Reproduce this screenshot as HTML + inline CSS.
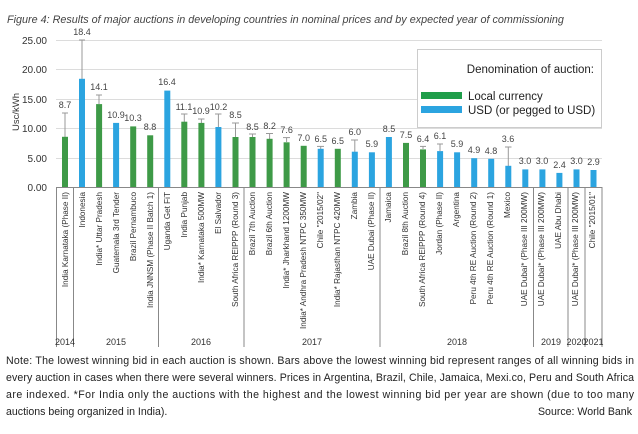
<!DOCTYPE html>
<html><head><meta charset="utf-8"><style>
body{margin:0;background:#fff;width:638px;height:434px;overflow:hidden}
svg{display:block;font-family:"Liberation Sans",sans-serif}
.v{font-size:9px;fill:#444;text-anchor:middle}
.c{font-size:8.2px;fill:#333;text-anchor:end}
.y{font-size:9px;fill:#333;text-anchor:middle}
.n{font-size:10.6px;fill:#222}
</style></head><body>
<svg width="638" height="434" viewBox="0 0 638 434">
<text x="7" y="23" font-size="10.8" font-style="italic" fill="#444">Figure 4: Results of major auctions in developing countries in nominal prices and by expected year of commissioning</text>
<g stroke="#dcdcdc" stroke-width="1">
<line x1="56" y1="40.5" x2="602" y2="40.5"/><line x1="56" y1="69.5" x2="602" y2="69.5"/><line x1="56" y1="99.5" x2="602" y2="99.5"/><line x1="56" y1="128.5" x2="602" y2="128.5"/><line x1="56" y1="158.5" x2="602" y2="158.5"/>
</g>
<g font-size="10" fill="#333" text-anchor="end">
<text x="47" y="44">25.00</text><text x="47" y="73">20.00</text><text x="47" y="103">15.00</text><text x="47" y="132">10.00</text><text x="47" y="162">5.00</text><text x="47" y="191">0.00</text>
</g>
<text transform="translate(19,112) rotate(-90)" font-size="9.5" fill="#333" text-anchor="middle">Usc/kWh</text>
<g stroke="#999" stroke-width="1">
<line x1="65" y1="113" x2="65" y2="137"/><line x1="62" y1="113" x2="68" y2="113"/>
<line x1="82" y1="40" x2="82" y2="79"/><line x1="79" y1="40" x2="85" y2="40"/>
<line x1="99" y1="95" x2="99" y2="104"/><line x1="96" y1="95" x2="102" y2="95"/>
<line x1="184.3" y1="114" x2="184.3" y2="122"/><line x1="181" y1="114" x2="187.5" y2="114"/>
<line x1="201.4" y1="119" x2="201.4" y2="123"/><line x1="198" y1="119" x2="204.5" y2="119"/>
<line x1="218.4" y1="114" x2="218.4" y2="127"/><line x1="215" y1="114" x2="221.5" y2="114"/>
<line x1="235.5" y1="123" x2="235.5" y2="137"/><line x1="232" y1="123" x2="239" y2="123"/>
<line x1="252.5" y1="134" x2="252.5" y2="137"/><line x1="249" y1="134" x2="256" y2="134"/>
<line x1="269.6" y1="133.5" x2="269.6" y2="139"/><line x1="266" y1="133.5" x2="273" y2="133.5"/>
<line x1="286.6" y1="137.6" x2="286.6" y2="142"/><line x1="283" y1="137.6" x2="290" y2="137.6"/>
<line x1="320.7" y1="146.4" x2="320.7" y2="149"/><line x1="317" y1="146.4" x2="324" y2="146.4"/>
<line x1="354.8" y1="140" x2="354.8" y2="152"/><line x1="351" y1="140" x2="358" y2="140"/>
<line x1="423" y1="146.4" x2="423" y2="149"/><line x1="420" y1="146.4" x2="426" y2="146.4"/>
<line x1="440" y1="144" x2="440" y2="151"/><line x1="437" y1="144" x2="443" y2="144"/>
<line x1="508.3" y1="147" x2="508.3" y2="166"/><line x1="505" y1="147" x2="511.5" y2="147"/>
</g>
<g>
<rect x="62" y="136.8" width="6" height="50.2" fill="#3e9a47"/>
<rect x="79" y="78.8" width="6" height="108.2" fill="#2ba4e0"/>
<rect x="96.1" y="104.1" width="6" height="82.9" fill="#3e9a47"/>
<rect x="113.1" y="122.9" width="6" height="64.1" fill="#2ba4e0"/>
<rect x="130.2" y="126.4" width="6" height="60.6" fill="#3e9a47"/>
<rect x="147.2" y="135.3" width="6" height="51.7" fill="#3e9a47"/>
<rect x="164.3" y="90.6" width="6" height="96.4" fill="#2ba4e0"/>
<rect x="181.3" y="121.7" width="6" height="65.3" fill="#3e9a47"/>
<rect x="198.4" y="122.9" width="6" height="64.1" fill="#3e9a47"/>
<rect x="215.4" y="127" width="6" height="60" fill="#2ba4e0"/>
<rect x="232.5" y="137" width="6" height="50" fill="#3e9a47"/>
<rect x="249.5" y="137" width="6" height="50" fill="#3e9a47"/>
<rect x="266.6" y="138.8" width="6" height="48.2" fill="#3e9a47"/>
<rect x="283.6" y="142.3" width="6" height="44.7" fill="#3e9a47"/>
<rect x="300.7" y="145.8" width="6" height="41.2" fill="#3e9a47"/>
<rect x="317.7" y="148.8" width="6" height="38.2" fill="#2ba4e0"/>
<rect x="334.8" y="148.8" width="6" height="38.2" fill="#3e9a47"/>
<rect x="351.8" y="151.7" width="6" height="35.3" fill="#2ba4e0"/>
<rect x="368.9" y="152.3" width="6" height="34.7" fill="#2ba4e0"/>
<rect x="385.9" y="137" width="6" height="50" fill="#2ba4e0"/>
<rect x="403" y="142.9" width="6" height="44.1" fill="#3e9a47"/>
<rect x="420" y="149.4" width="6" height="37.6" fill="#3e9a47"/>
<rect x="437.1" y="151.1" width="6" height="35.9" fill="#2ba4e0"/>
<rect x="454.1" y="152.3" width="6" height="34.7" fill="#2ba4e0"/>
<rect x="471.2" y="158.2" width="6" height="28.8" fill="#2ba4e0"/>
<rect x="488.2" y="158.8" width="6" height="28.2" fill="#2ba4e0"/>
<rect x="505.3" y="165.8" width="6" height="21.2" fill="#2ba4e0"/>
<rect x="522.3" y="169.4" width="6" height="17.6" fill="#2ba4e0"/>
<rect x="539.4" y="169.4" width="6" height="17.6" fill="#2ba4e0"/>
<rect x="556.4" y="172.9" width="6" height="14.1" fill="#2ba4e0"/>
<rect x="573.5" y="169.4" width="6" height="17.6" fill="#2ba4e0"/>
<rect x="590.5" y="170" width="6" height="17" fill="#2ba4e0"/>
</g>
<g class="v">
<text x="65" y="108">8.7</text><text x="82" y="35">18.4</text><text x="99" y="90">14.1</text><text x="116" y="118">10.9</text><text x="133" y="121">10.3</text><text x="150" y="130">8.8</text><text x="167" y="85">16.4</text><text x="184" y="110">11.1</text><text x="201" y="114">10.9</text><text x="218.5" y="110">10.2</text><text x="235.5" y="118">8.5</text><text x="252.5" y="130">8.5</text><text x="269.6" y="129">8.2</text><text x="286.6" y="133">7.6</text><text x="303.7" y="141">7.0</text><text x="320.7" y="142">6.5</text><text x="337.8" y="144">6.5</text><text x="354.8" y="135">6.0</text><text x="371.9" y="147">5.9</text><text x="389" y="132">8.5</text><text x="406" y="138">7.5</text><text x="423" y="142">6.4</text><text x="440" y="139">6.1</text><text x="457" y="147">5.9</text><text x="474" y="153">4.9</text><text x="491" y="154">4.8</text><text x="508" y="142">3.6</text><text x="525" y="164">3.0</text><text x="542" y="164">3.0</text><text x="559.5" y="168">2.4</text><text x="576.5" y="164">3.0</text><text x="593.5" y="165">2.9</text>
</g>
<g stroke="#888" stroke-width="1">
<line x1="56" y1="187.5" x2="602" y2="187.5"/>
<line x1="56.5" y1="187" x2="56.5" y2="347"/><line x1="73.5" y1="187" x2="73.5" y2="347"/><line x1="158.5" y1="187" x2="158.5" y2="347"/><line x1="244" y1="187" x2="244" y2="347"/><line x1="380" y1="187" x2="380" y2="347"/><line x1="533.5" y1="187" x2="533.5" y2="347"/><line x1="568" y1="187" x2="568" y2="347"/><line x1="585" y1="187" x2="585" y2="347"/><line x1="602" y1="187" x2="602" y2="347"/>
</g>
<g class="c">
<text transform="translate(68,192) rotate(-90)">India Karnataka (Phase II)</text>
<text transform="translate(85,192) rotate(-90)">Indonesia</text>
<text transform="translate(102,192) rotate(-90)">India* Uttar Pradesh</text>
<text transform="translate(119,192) rotate(-90)">Guatemala 3rd Tender</text>
<text transform="translate(136,192) rotate(-90)">Brazil Pernambuco</text>
<text transform="translate(153,192) rotate(-90)">India JNNSM (Phase II Batch 1)</text>
<text transform="translate(170,192) rotate(-90)">Uganda Get FiT</text>
<text transform="translate(187,192) rotate(-90)">India Punjab</text>
<text transform="translate(204,192) rotate(-90)">India* Karnataka 500MW</text>
<text transform="translate(221,192) rotate(-90)">El Salvador</text>
<text transform="translate(238,192) rotate(-90)">South Africa REIPPP (Round 3)</text>
<text transform="translate(255,192) rotate(-90)">Brazil 7th Auction</text>
<text transform="translate(272,192) rotate(-90)">Brazil 6th Auction</text>
<text transform="translate(289,192) rotate(-90)">India* Jharkhand 1200MW</text>
<text transform="translate(306,192) rotate(-90)">India* Andhra Pradesh NTPC 350MW</text>
<text transform="translate(323,192) rotate(-90)">Chile "2015/02"</text>
<text transform="translate(340,192) rotate(-90)">India* Rajasthan NTPC 420MW</text>
<text transform="translate(357,192) rotate(-90)">Zambia</text>
<text transform="translate(374,192) rotate(-90)">UAE Dubai (Phase II)</text>
<text transform="translate(391,192) rotate(-90)">Jamaica</text>
<text transform="translate(408,192) rotate(-90)">Brazil 8th Auction</text>
<text transform="translate(425,192) rotate(-90)">South Africa REIPPP (Round 4)</text>
<text transform="translate(442,192) rotate(-90)">Jordan (Phase II)</text>
<text transform="translate(459,192) rotate(-90)">Argentina</text>
<text transform="translate(476,192) rotate(-90)">Peru 4th RE Auction (Round 2)</text>
<text transform="translate(493,192) rotate(-90)">Peru 4th RE Auction (Round 1)</text>
<text transform="translate(510,192) rotate(-90)">Mexico</text>
<text transform="translate(527,192) rotate(-90)">UAE Dubai* (Phase III 200MW)</text>
<text transform="translate(544,192) rotate(-90)">UAE Dubai* (Phase III 200MW)</text>
<text transform="translate(561,192) rotate(-90)">UAE Abu Dhabi</text>
<text transform="translate(578,192) rotate(-90)">UAE Dubai* (Phase III 200MW)</text>
<text transform="translate(595,192) rotate(-90)">Chile "2015/01"</text>
</g>
<g class="y">
<text x="65" y="345">2014</text><text x="116" y="345">2015</text><text x="201" y="345">2016</text><text x="312" y="345">2017</text><text x="457" y="345">2018</text><text x="551" y="345">2019</text><text x="576.5" y="345">2020</text><text x="593.5" y="345">2021</text>
</g>
<rect x="417.5" y="49.5" width="184" height="78" fill="#fff" stroke="#ccc"/>
<text x="594" y="73" font-size="11.5" fill="#222" text-anchor="end">Denomination of auction:</text>
<rect x="421" y="92" width="41" height="7" fill="#1f9e4a"/>
<rect x="421" y="106" width="41" height="7" fill="#2ba4e0"/>
<text x="468" y="100" font-size="11.5" fill="#222">Local currency</text>
<text x="468" y="114" font-size="11.5" fill="#222">USD (or pegged to USD)</text>
<g class="n">
<text x="6" y="364" textLength="628">Note: The lowest winning bid in each auction is shown. Bars above the lowest winning bid represent ranges of all winning bids in</text>
<text x="6" y="381" textLength="628">every auction in cases when there were several winners. Prices in Argentina, Brazil, Chile, Jamaica, Mexi.co, Peru and South Africa</text>
<text x="6" y="398" textLength="628">are indexed. *For India only the auctions with the highest and the lowest winning bid per year are shown (due to too many</text>
<text x="6" y="415">auctions being organized in India).</text>
<text x="632" y="415" text-anchor="end">Source: World Bank</text>
</g>
</svg>
</body></html>
